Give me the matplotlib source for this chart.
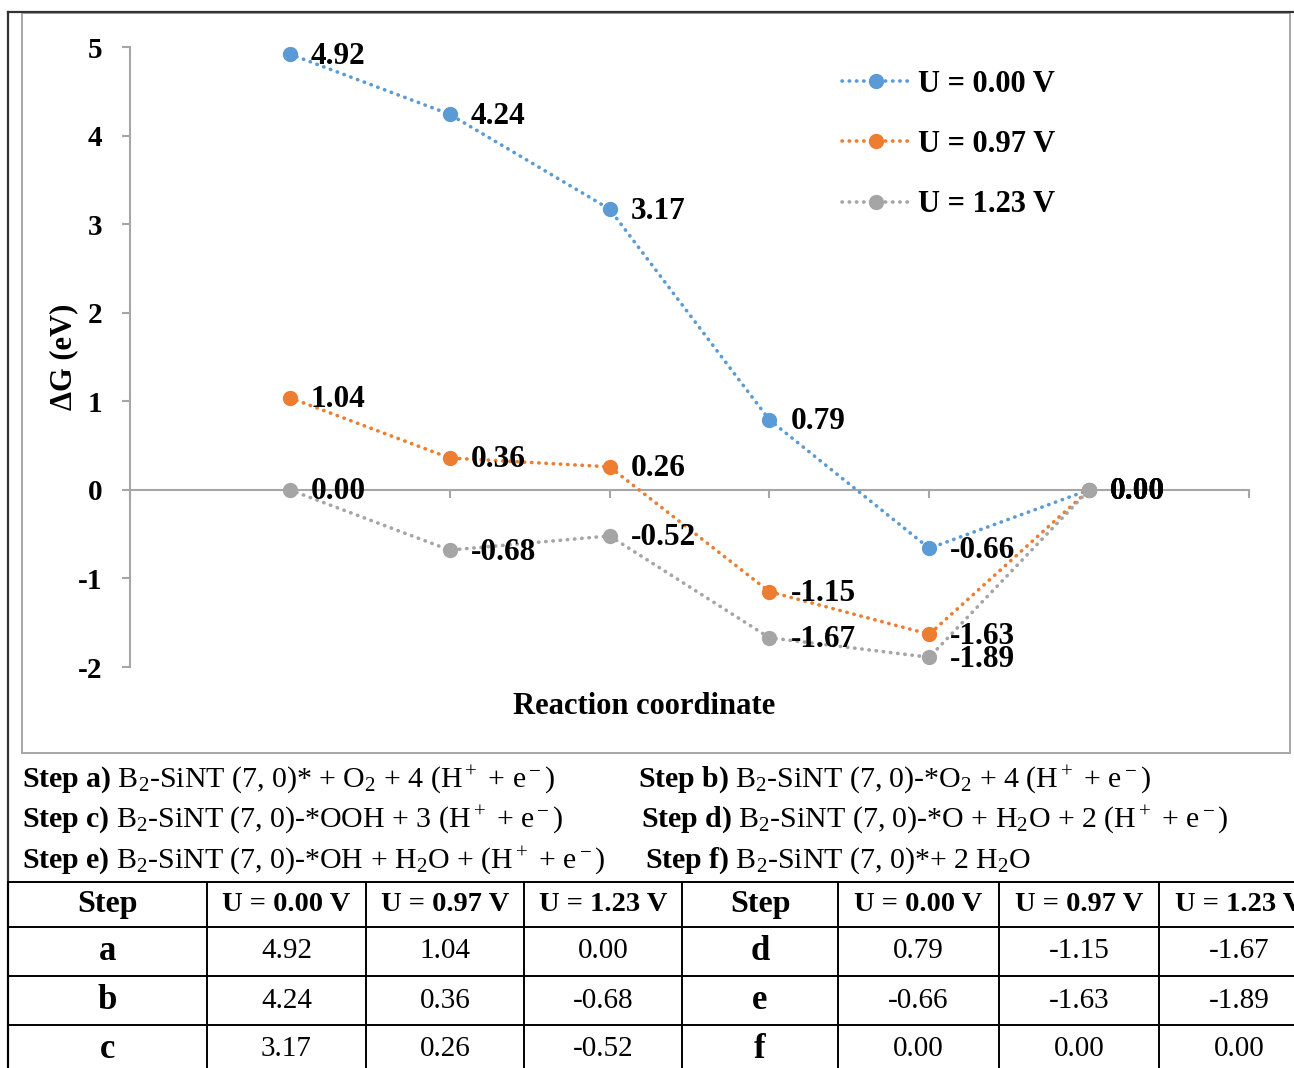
import matplotlib
matplotlib.use("Agg")
import matplotlib.pyplot as plt
from matplotlib.lines import Line2D
from matplotlib.patches import Rectangle

plt.rcParams['font.family'] = ['Liberation Serif', 'DejaVu Serif']
plt.rcParams['mathtext.fontset'] = 'custom'
plt.rcParams['mathtext.rm'] = 'Liberation Serif'
plt.rcParams['mathtext.bf'] = 'Liberation Serif:bold'
plt.rcParams['mathtext.it'] = 'Liberation Serif:italic'
plt.rcParams['axes.unicode_minus'] = False

# data
steps = ['a', 'b', 'c', 'd', 'e', 'f']
g_u000 = [4.92, 4.24, 3.17, 0.79, -0.66, 0.00]
g_u097 = [1.04, 0.36, 0.26, -1.15, -1.63, 0.00]
g_u123 = [0.00, -0.68, -0.52, -1.67, -1.89, 0.00]
series_names = ['U = 0.00 V', 'U = 0.97 V', 'U = 1.23 V']
series_colors = ['#5B9BD5', '#ED7D31', '#A5A5A5']
yticks = [-2, -1, 0, 1, 2, 3, 4, 5]

step_desc = [
    r'$\mathbf{Step\ a)}$ B$_2$-SiNT (7, 0)* + O$_2$ + 4 (H$^+$ + e$^-$)',
    r'$\mathbf{Step\ b)}$ B$_2$-SiNT (7, 0)-*O$_2$ + 4 (H$^+$ + e$^-$)',
    r'$\mathbf{Step\ c)}$ B$_2$-SiNT (7, 0)-*OOH + 3 (H$^+$ + e$^-$)',
    r'$\mathbf{Step\ d)}$ B$_2$-SiNT (7, 0)-*O + H$_2$O + 2 (H$^+$ + e$^-$)',
    r'$\mathbf{Step\ e)}$ B$_2$-SiNT (7, 0)-*OH + H$_2$O + (H$^+$ + e$^-$)',
    r'$\mathbf{Step\ f)}$ B$_2$-SiNT (7, 0)*+ 2 H$_2$O',
]

W, H = 1294, 1068
fig = plt.figure(figsize=(W / 100, H / 100), dpi=100)


def fx(px):
    return px / W


def fy(py):
    return 1 - py / H


# outer frames
fig.add_artist(Line2D([fx(8), fx(8)], [fy(12), fy(1068)], color='#333333', lw=1.6))
fig.add_artist(Line2D([fx(8), fx(1294)], [fy(12), fy(12)], color='#333333', lw=1.6))
fig.add_artist(Rectangle((fx(22), fy(753)), fx(1290) - fx(22), fy(13) - fy(753),
                         fill=False, ec='#A6A6A6', lw=1.4, transform=fig.transFigure))

# chart
ax = fig.add_axes([fx(130), fy(667), fx(1249) - fx(130), fy(47) - fy(667)])
x = list(range(1, len(steps) + 1))
for vals, name, col in zip([g_u000, g_u097, g_u123], series_names, series_colors):
    ax.plot(x, vals, color=col, lw=2.6, linestyle=(0, (0.1, 1.9)),
            dash_capstyle='round', marker='o', markersize=10, label=name, zorder=3)
    for xi, v in zip(x, vals):
        ax.annotate('%.2f' % v, (xi, v), xytext=(21, -2), textcoords='offset pixels',
                    ha='left', va='center', fontsize=22.5, fontweight='bold', zorder=4)

ax.set_xlim(0, 7)
ax.set_ylim(-2, 5)
ax.set_yticks(yticks)
ax.set_xticks(range(0, 8))
ax.set_xticklabels([])
for s in ['top', 'right']:
    ax.spines[s].set_visible(False)
ax.spines['bottom'].set_position(('data', 0))
ax.spines['bottom'].set_color('#A6A6A6')
ax.spines['left'].set_color('#A6A6A6')
ax.spines['bottom'].set_linewidth(1.5)
ax.spines['left'].set_linewidth(1.5)
ax.tick_params(axis='y', colors='#A6A6A6', labelcolor='black', length=6, width=1.5,
               pad=14, labelsize=21)
ax.tick_params(axis='x', colors='#A6A6A6', length=6, width=1.5)
for lab in ax.get_yticklabels():
    lab.set_fontweight('bold')

ax.set_ylabel('ΔG (eV)', fontsize=22, fontweight='bold')
ax.yaxis.set_label_coords(-0.046, 0.5)
ax.set_xlabel('Reaction coordinate', fontsize=22, fontweight='bold')
ax.xaxis.set_label_coords((644 - 130) / 1119, (667 - 706) / 620)
ax.xaxis.label.set_va('center')

leg = ax.legend(loc='upper left', bbox_to_anchor=(fx(842), fy(70)),
                bbox_transform=fig.transFigure, frameon=False, borderpad=0,
                borderaxespad=0, handlelength=2.2, handletextpad=0.3,
                labelspacing=1.02, prop={'size': 22, 'weight': 'bold'})

# step descriptions
step_pos = [(22, 780), (638, 780), (22, 820), (641, 820), (22, 861), (645, 861)]
for txt, (px, py) in zip(step_desc, step_pos):
    fig.text(fx(px), fy(py), txt, fontsize=21.5, ha='left', va='center')

# table
col_edges = [8, 207, 366, 524, 682, 838, 999, 1159, 1319]
row_edges = [882, 927, 976, 1025, 1074]
for yy in row_edges[:-1]:
    fig.add_artist(Line2D([fx(8), fx(1294)], [fy(yy), fy(yy)], color='black', lw=1.4))
for xx in col_edges[:-1]:
    fig.add_artist(Line2D([fx(xx), fx(xx)], [fy(882), fy(1068)], color='black', lw=1.4))

header = ['Step'] + series_names
columns = [g_u000, g_u097, g_u123]
for half in range(2):
    c0 = half * 4
    for j, h in enumerate(header):
        cx = (col_edges[c0 + j] + col_edges[c0 + j + 1]) / 2
        cy = (row_edges[0] + row_edges[1]) / 2
        fig.text(fx(cx), fy(cy), h, ha='center', va='center', fontweight='bold',
                 fontsize=23 if j == 0 else 20.5)
    for r in range(3):
        i = half * 3 + r
        cy = (row_edges[r + 1] + row_edges[r + 2]) / 2
        cx = (col_edges[c0] + col_edges[c0 + 1]) / 2
        fig.text(fx(cx), fy(cy), steps[i], ha='center', va='center',
                 fontweight='bold', fontsize=25)
        for j, col in enumerate(columns):
            cx = (col_edges[c0 + j + 1] + col_edges[c0 + j + 2]) / 2
            fig.text(fx(cx), fy(cy), '%.2f' % col[i], ha='center', va='center',
                     fontsize=21)

fig.savefig('out.png', dpi=100)
